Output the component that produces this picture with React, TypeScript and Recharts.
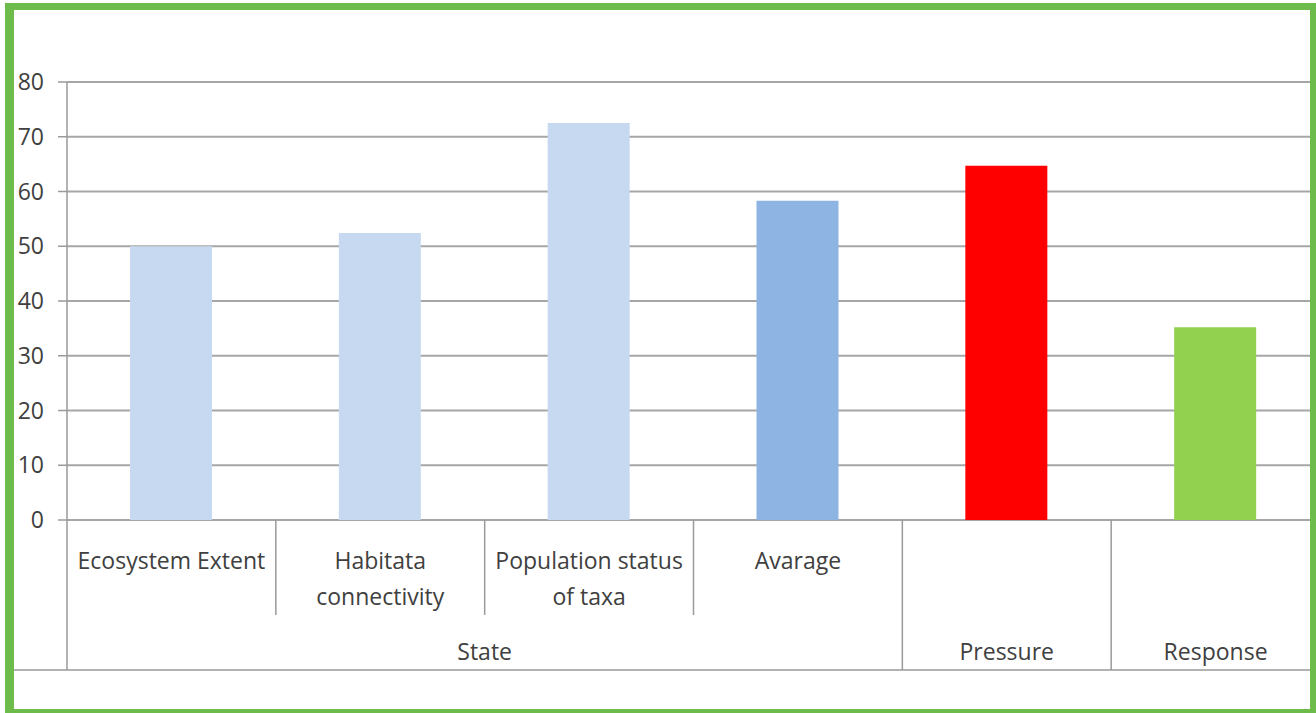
import {Bar, BarChart, CartesianGrid, Cell, XAxis, YAxis} from 'recharts'

// indicator scores, grouped State / Pressure / Response
const indicators = ['Ecosystem Extent', 'Habitata connectivity', 'Population status of taxa', 'Avarage', 'Pressure', 'Response']
const indicatorLines = [['Ecosystem Extent'], ['Habitata', 'connectivity'], ['Population status', 'of taxa'], ['Avarage'], [], []]
const groups = ['State', 'State', 'State', 'State', 'Pressure', 'Response']
const scores = [50, 52.4, 72.5, 58.3, 64.7, 35.2]
const barColors = ['#c6d9f0', '#c6d9f0', '#c6d9f0', '#8eb4e3', '#ff0000', '#92d050']
const yTicks = [0, 10, 20, 30, 40, 50, 60, 70, 80]

const data = indicators.map((name, i) => ({id: name, group: groups[i], score: scores[i]}))

const CHART_W = 1320
const CHART_H = 713
const Y_W = 67
const TOP = 82
const AXIS_H = 193
const PLOT_BOTTOM = CHART_H - AXIS_H
const BAND = (CHART_W - Y_W) / indicators.length
const FONT = '"Open Sans", sans-serif'
const TEXT = '#404040'
const RULE = '#9a9a9a'

function CategoryTick(props: any) {
    const {payload, index} = props
    const cx = payload.coordinate
    const right = cx + BAND / 2
    const group = groups[index]
    const groupEnd = index === groups.length - 1 || groups[index + 1] !== group
    const count = groups.filter(g => g === group).length

    return (
        <g>
            {index === 0 && (
                <>
                    <line x1={cx - BAND / 2} x2={cx - BAND / 2} y1={PLOT_BOTTOM} y2={670} stroke={RULE} strokeWidth={1.5}/>
                    <line x1={14} x2={CHART_W} y1={670} y2={670} stroke={RULE} strokeWidth={1.5}/>
                </>
            )}
            <line x1={right} x2={right} y1={PLOT_BOTTOM} y2={groupEnd ? 670 : 615} stroke={RULE} strokeWidth={1.5}/>
            {indicatorLines[index].map((line, k) => (
                <text key={k} x={cx} y={569 + k * 36} textAnchor="middle" fontSize={23}
                      fontFamily={FONT} fill={TEXT}>{line}</text>
            ))}
            {groupEnd && (
                <text x={cx - (count - 1) * BAND / 2} y={660} textAnchor="middle" fontSize={23}
                      fontFamily={FONT} fill={TEXT}>{group}</text>
            )}
        </g>
    )
}

export default function App() {
    return (
        <div style={{position: 'absolute', left: 0, top: 0, width: 1316, height: 713, overflow: 'hidden', background: '#fff'}}>
            <BarChart width={CHART_W} height={CHART_H} data={data}
                      margin={{top: TOP, right: 0, left: 0, bottom: 0}}>
                <CartesianGrid vertical={false} stroke="#a6a6a6" strokeWidth={2}/>
                <YAxis
                    width={Y_W} domain={[0, 80]} ticks={yTicks} interval={0}
                    tickSize={9} tickMargin={14}
                    axisLine={{stroke: RULE, strokeWidth: 1.5}}
                    tickLine={{stroke: RULE, strokeWidth: 1.5}}
                    tick={{fontSize: 23, fill: TEXT, fontFamily: FONT}}
                />
                <XAxis
                    dataKey="id" height={AXIS_H} interval={0}
                    axisLine={false} tickLine={false}
                    tick={(p: any) => <CategoryTick {...p}/>}
                />
                <Bar dataKey="score" barSize={82} isAnimationActive={false}>
                    {data.map((d, i) => <Cell key={d.id} fill={barColors[i]}/>)}
                </Bar>
            </BarChart>
            <div style={{
                position: 'absolute', left: 5, top: 3, width: 1311, height: 710, boxSizing: 'border-box',
                borderStyle: 'solid', borderColor: '#6cbb4b',
                borderWidth: '7px 6px 4px 9px', pointerEvents: 'none',
            }}/>
        </div>
    )
}
